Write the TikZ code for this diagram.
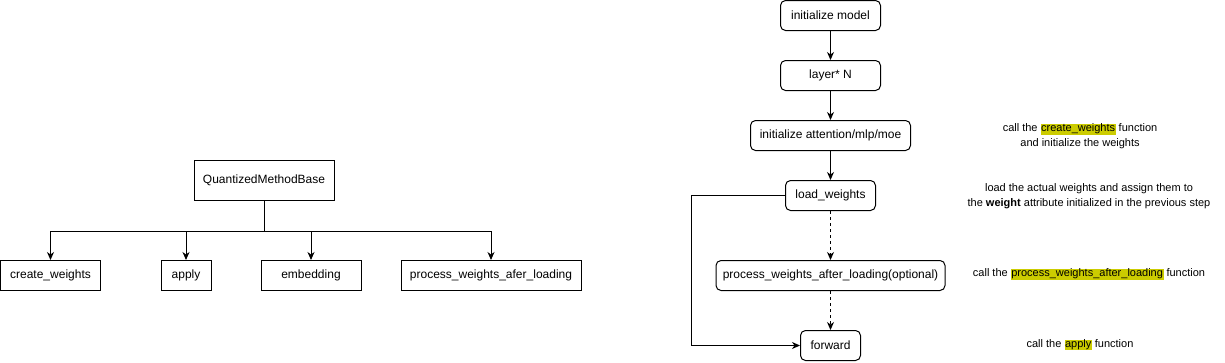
\documentclass[tikz,border=0pt]{standalone}
\usepackage{fontspec}
\setmainfont{Liberation Sans}
\usetikzlibrary{arrows.meta}
\definecolor{hl}{HTML}{CCCC00}
\newcommand\hlword[1]{{\setlength{\fboxsep}{0pt}\colorbox{hl}{\kern0.5pt\rule[-3pt]{0pt}{9pt}#1\kern0.5pt}}}
\begin{document}
\begin{tikzpicture}[x=1pt,y=-1pt,
  font=\fontsize{12pt}{14pt}\selectfont,
  box/.style={draw, line width=1pt, minimum height=30pt, inner sep=0pt, anchor=center},
  rbox/.style={box, rounded corners=5pt},
  arr/.style={line width=1pt, -{Stealth[length=8pt,width=7pt,inset=2.5pt]}},
  ln/.style={line width=1pt},
  note/.style={align=center, inner sep=0pt, font=\fontsize{11pt}{14.5pt}\selectfont}]
\useasboundingbox (0,0) rectangle (1225,362);
% left tree
\node[box, minimum width=140pt, minimum height=40pt] (qmb) at (264,180) {QuantizedMethodBase};
\node[box, minimum width=100pt] (cw) at (50.5,275.5) {create\_weights};
\node[box, minimum width=50pt] (ap) at (186,275.5) {apply};
\node[box, minimum width=100pt] (em) at (311,275.5) {embedding};
\node[box, minimum width=180pt] (pw) at (491,275.5) {process\_weights\_afer\_loading};
\coordinate (bus) at (264,231);
\draw[ln] (qmb.south) -- (bus);
\draw[arr] (bus) -| (cw.north);
\draw[arr] (bus) -| (ap.north);
\draw[arr] (bus) -| (em.north);
\draw[arr] (bus) -| (pw.north);
% right flow
\node[rbox, minimum width=100pt] (im) at (830.5,15.5) {initialize model};
\node[rbox, minimum width=100pt] (ln) at (830.5,75.5) {layer* N};
\node[rbox, minimum width=160pt] (ia) at (830.5,135.5) {initialize attention/mlp/moe};
\node[rbox, minimum width=90pt] (lw) at (830.5,195.5) {load\_weights};
\node[rbox, minimum width=229pt] (pwl) at (830.5,275.5) {process\_weights\_after\_loading(optional)};
\node[rbox, minimum width=60pt] (fw) at (830.5,345.5) {forward};
\draw[arr] (im) -- (ln);
\draw[arr] (ln) -- (ia);
\draw[arr] (ia) -- (lw);
\draw[arr, dashed] (lw) -- (pwl);
\draw[arr, dashed] (pwl) -- (fw);
\coordinate (lp) at (691,195.5);
\draw[arr] (lw.west) -- (lp) |- (fw.west);
% notes
\node[note] (n1) at (1080,136) {call the \hlword{create\_weights} function\\and initialize the weights};
\node[note] (n2) at (1089,196) {load the actual weights and assign them to\\the \textbf{weight} attribute initialized in the previous step};
\node[note] (n3) at (1089,274.5) {call the \hlword{process\_weights\_after\_loading} function};
\node[note] (n4) at (1080,345) {call the \hlword{apply} function};
\end{tikzpicture}
\end{document}
